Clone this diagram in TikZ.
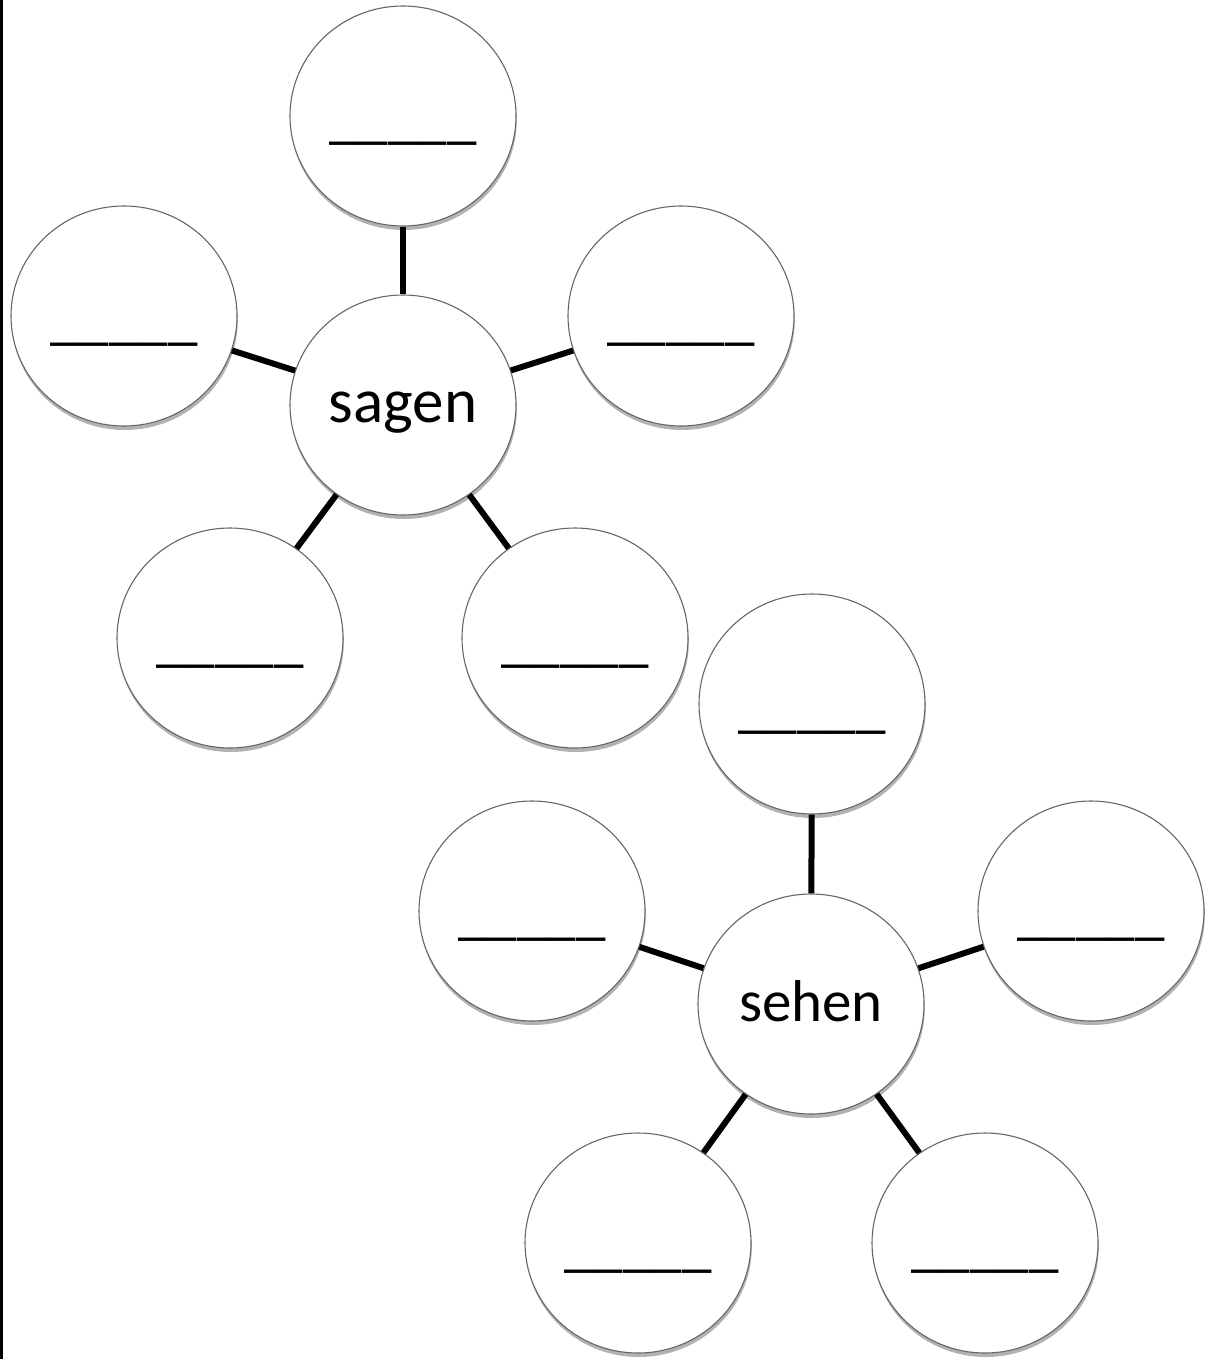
\documentclass[tikz,border=0pt]{standalone}
\usepackage{fontspec}
\setmainfont{Carlito}
\usetikzlibrary{shapes.geometric,shadows}
\begin{document}
\begin{tikzpicture}[x=1pt,y=-1pt,
  bub/.style={ellipse, draw=black!60, line width=1.1pt, fill=white,
    minimum width=226pt, minimum height=220pt, inner sep=0pt,
    drop shadow={shadow xshift=0.8pt, shadow yshift=-4pt, opacity=0.3, fill=black},
    font=\fontsize{59}{70}\selectfont},
  word/.style={bub, text height=40pt, text depth=6pt},
  blank/.style={bub, text height=48pt, text depth=4pt},
  link/.style={line width=6pt, black}]
\useasboundingbox (0,0) rectangle (1208,1359);
\fill[black] (0,0) rectangle (2.5,1359);
% sagen cluster
\node[word, font=\fontsize{63}{74}\selectfont]  (sc)  at (403,405) {sagen};
\node[blank] (st)  at (403,116) {\_\_\_\_\_};
\node[blank] (sl)  at (124,316) {\_\_\_\_\_};
\node[blank] (sr)  at (681,316) {\_\_\_\_\_};
\node[blank] (sbl) at (230,638) {\_\_\_\_\_};
\node[blank] (sbr) at (575,638) {\_\_\_\_\_};
\foreach \n in {st,sl,sr,sbl,sbr} \draw[link] (sc) -- (\n);
% sehen cluster
\node[word]  (hc)  at (811,1004) {sehen};
\node[blank] (ht)  at (812,704) {\_\_\_\_\_};
\node[blank] (hl)  at (532,911) {\_\_\_\_\_};
\node[blank] (hr)  at (1091,911) {\_\_\_\_\_};
\node[blank] (hbl) at (638,1243) {\_\_\_\_\_};
\node[blank] (hbr) at (985,1243) {\_\_\_\_\_};
\foreach \n in {ht,hl,hr,hbl,hbr} \draw[link] (hc) -- (\n);
\end{tikzpicture}
\end{document}
